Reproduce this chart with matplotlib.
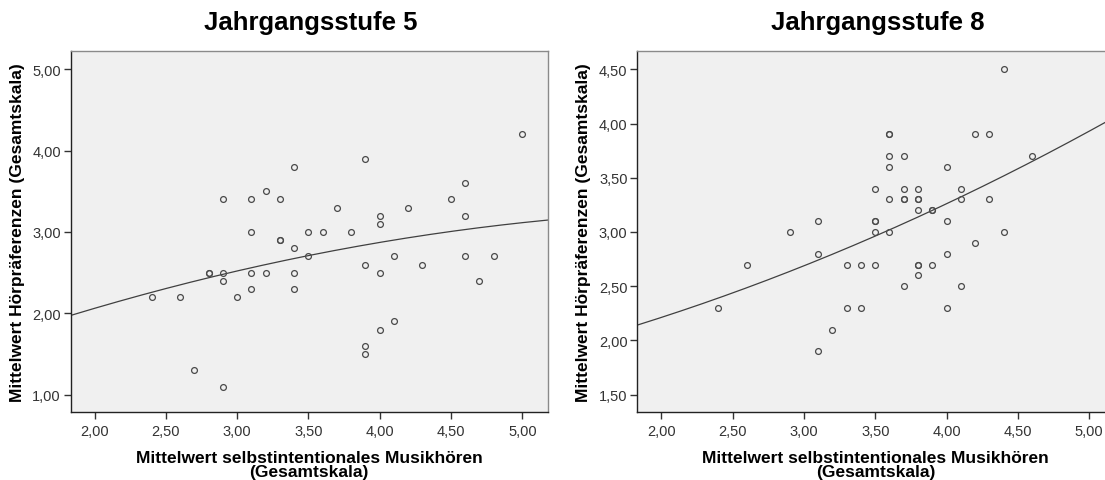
import matplotlib

matplotlib.use("Agg")

import matplotlib.pyplot as plt
import matplotlib.ticker as mticker
import numpy as np

plt.rcParams["font.family"] = ["Liberation Sans", "DejaVu Sans"]

# Jahrgangsstufe 5: Musikhören (x) vs. Hörpräferenzen (y)
x5 = [2.4, 2.6, 2.7, 2.8, 2.8, 2.9, 2.9, 2.9, 2.9, 3.0, 3.1, 3.1, 3.1, 3.1,
      3.2, 3.2, 3.3, 3.3, 3.3, 3.4, 3.4, 3.4, 3.4, 3.5, 3.5, 3.6, 3.7, 3.8,
      3.9, 3.9, 3.9, 3.9, 4.0, 4.0, 4.0, 4.0, 4.1, 4.1, 4.2, 4.3, 4.5, 4.6,
      4.6, 4.6, 4.7, 4.8, 5.0]
y5 = [2.2, 2.2, 1.3, 2.5, 2.5, 3.4, 2.5, 2.4, 1.1, 2.2, 3.4, 3.0, 2.5, 2.3,
      3.5, 2.5, 3.4, 2.9, 2.9, 3.8, 2.8, 2.5, 2.3, 3.0, 2.7, 3.0, 3.3, 3.0,
      3.9, 2.6, 1.6, 1.5, 3.2, 3.1, 2.5, 1.8, 2.7, 1.9, 3.3, 2.6, 3.4, 3.6,
      3.2, 2.7, 2.4, 2.7, 4.2]

# Jahrgangsstufe 8
x8 = [2.4, 2.6, 2.9, 3.1, 3.1, 3.1, 3.2, 3.3, 3.3, 3.4, 3.4, 3.5, 3.5, 3.5,
      3.5, 3.5, 3.6, 3.6, 3.6, 3.6, 3.6, 3.6, 3.7, 3.7, 3.7, 3.7, 3.7, 3.8,
      3.8, 3.8, 3.8, 3.8, 3.8, 3.8, 3.9, 3.9, 3.9, 4.0, 4.0, 4.0, 4.0, 4.1,
      4.1, 4.1, 4.2, 4.2, 4.3, 4.3, 4.4, 4.4, 4.6]
y8 = [2.3, 2.7, 3.0, 3.1, 2.8, 1.9, 2.1, 2.7, 2.3, 2.7, 2.3, 3.4, 3.1, 3.1,
      3.0, 2.7, 3.9, 3.9, 3.7, 3.6, 3.3, 3.0, 3.7, 3.4, 3.3, 3.3, 2.5, 3.4,
      3.3, 3.3, 3.2, 2.7, 2.7, 2.6, 3.2, 3.2, 2.7, 3.6, 3.1, 2.8, 2.3, 3.4,
      3.3, 2.5, 3.9, 2.9, 3.9, 3.3, 4.5, 3.0, 3.7]

titles = ["Jahrgangsstufe 5", "Jahrgangsstufe 8"]
xticks = [2.0, 2.5, 3.0, 3.5, 4.0, 4.5, 5.0]
yticks5 = [1.0, 2.0, 3.0, 4.0, 5.0]
yticks8 = [1.5, 2.0, 2.5, 3.0, 3.5, 4.0, 4.5]
xlabel = "Mittelwert selbstintentionales Musikhören\n(Gesamtskala)"
ylabel = "Mittelwert Hörpräferenzen (Gesamtskala)"

W, H = 1105, 481
fig = plt.figure(figsize=(W / 100, H / 100), dpi=100)


def comma_fmt(v, _pos):
    return f"{v:.2f}".replace(".", ",")


def panel(left_px, x, y, yticks, ylim, title, ylab_px):
    ax = fig.add_axes([left_px / W, (H - 413) / H, 477 / W, 361 / H])
    ax.set_facecolor("#f0f0f0")
    ax.set_xlim(1.831, 5.177)
    ax.set_ylim(*ylim)

    ax.plot(x, y, "o", ms=4.2, mfc="none", mec="#4a4a4a", mew=0.9, zorder=3)

    # quadratische Anpassungslinie
    coef = np.polyfit(x, y, 2)
    xs = np.linspace(1.831, 5.177, 200)
    ax.plot(xs, np.polyval(coef, xs), color="#404040", lw=0.9, zorder=2)

    for side in ("top", "right"):
        ax.spines[side].set_color("#8a8a8a")
    for side in ("left", "bottom"):
        ax.spines[side].set_color("#222222")
    for sp in ax.spines.values():
        sp.set_linewidth(1.0)

    ax.set_xticks(xticks)
    ax.set_yticks(yticks)
    ax.xaxis.set_major_formatter(mticker.FuncFormatter(comma_fmt))
    ax.yaxis.set_major_formatter(mticker.FuncFormatter(comma_fmt))
    ax.tick_params(length=5, width=1.0, color="#333333", labelsize=10.5,
                   labelcolor="#333333", pad=2)
    ax.tick_params(axis="x", pad=4)

    ax.set_xlabel(xlabel, fontsize=12.5, fontweight="bold", linespacing=0.95,
                  labelpad=8)
    ax.set_ylabel(ylabel, fontsize=12.5, fontweight="bold")
    ax.yaxis.set_label_coords((ylab_px - left_px) / 477, 0.5)
    fig.text((left_px + 240) / W, 1 - 23 / H, title, ha="center", va="center",
             fontsize=18.5, fontweight="bold")
    return ax


panel(70.5, x5, y5, yticks5, (0.787, 5.225), titles[0], 25)
panel(637.3, x8, y8, yticks8, (1.34, 4.669), titles[1], 591)

fig.savefig("out.png", dpi=100, facecolor="white")
